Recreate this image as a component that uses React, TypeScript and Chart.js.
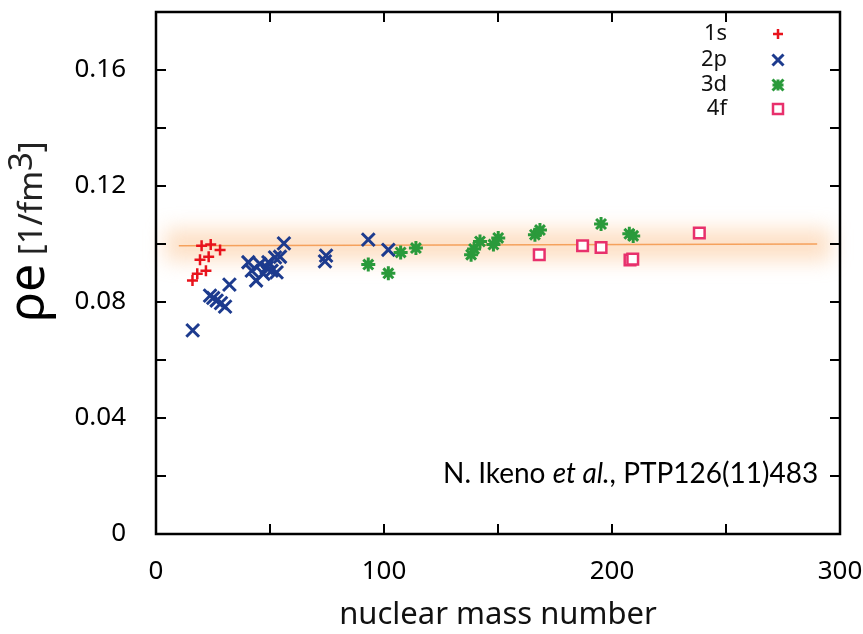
import React, { useEffect, useRef } from "react";
import { Chart, registerables } from "chart.js";

Chart.register(...registerables);

// ---- data ----
const s1X = [16.0, 18.1, 21.9, 19.3, 23.1, 20.0, 24.0, 28.1];
const s1Y = [0.0874, 0.0897, 0.0908, 0.0946, 0.0956, 0.0994, 0.0998, 0.0979];

const s2X = [16.1, 23.7, 25.1, 26.6, 28.5, 30.3, 32.2, 40.5, 42.0, 43.9, 45.6, 47.1, 48.5, 49.3, 50.7, 52.9, 52.2, 54.4, 56.1, 74.6, 74.1, 93.1, 101.9];
const s2Y = [0.0702, 0.0822, 0.0814, 0.0805, 0.0796, 0.0784, 0.0860, 0.0937, 0.0908, 0.0874, 0.0931, 0.0897, 0.0918, 0.0937, 0.0908, 0.0902, 0.0954, 0.0956, 0.1002, 0.0960, 0.0940, 0.1015, 0.0980];

const s3X = [93.1, 101.9, 107.3, 114.0, 138.2, 139.5, 142.1, 148.0, 150.1, 166.2, 168.4, 195.2, 207.6, 209.3];
const s3Y = [0.0929, 0.0899, 0.0971, 0.0986, 0.0963, 0.0983, 0.1009, 0.0998, 0.1021, 0.1032, 0.1048, 0.1069, 0.1035, 0.1028];

const s4X = [168.1, 187.1, 195.2, 207.9, 209.1, 238.3];
const s4Y = [0.0963, 0.0994, 0.0988, 0.0945, 0.0948, 0.1038];

const fitX = [10, 290];
const fitY = [0.0994, 0.1];
const glowX = [4, 296];
const glowHalfWidth = [0.0055];

const seriesNames = ["1s", "2p", "3d", "4f"];
const xTickValues = [0, 100, 200, 300];
const xTickLabels = ["0", "100", "200", "300"];
const yTickValues = [0, 0.04, 0.08, 0.12, 0.16];
const yTickLabels = ["0", "0.04", "0.08", "0.12", "0.16"];
const xFrameTicks = [50, 100, 150, 200, 250];
const yFrameTicks = [0.02, 0.04, 0.06, 0.08, 0.1, 0.12, 0.14, 0.16];

const xTitle = "nuclear mass number";
const creditParts = ["N. Ikeno ", "et al.", ", PTP126(11)483"];

const C_RED = "#e8131c";
const C_BLUE = "#1d3b8e";
const C_GREEN = "#2a9a3b";
const C_PINK = "#e8306c";

const zip = (xs: number[], ys: number[]) => xs.map((x, i) => ({ x, y: ys[i] }));

function drawMarker(ctx: CanvasRenderingContext2D, kind: number, x: number, y: number, s: number) {
  ctx.save();
  ctx.lineCap = "butt";
  ctx.beginPath();
  if (kind === 0) {
    ctx.strokeStyle = C_RED; ctx.lineWidth = 2.5;
    ctx.moveTo(x - s, y); ctx.lineTo(x + s, y); ctx.moveTo(x, y - s); ctx.lineTo(x, y + s);
  } else if (kind === 1) {
    ctx.strokeStyle = C_BLUE; ctx.lineWidth = 3;
    ctx.moveTo(x - s, y - s); ctx.lineTo(x + s, y + s); ctx.moveTo(x + s, y - s); ctx.lineTo(x - s, y + s);
  } else if (kind === 2) {
    ctx.strokeStyle = C_GREEN; ctx.lineWidth = 3;
    ctx.moveTo(x - s, y - s); ctx.lineTo(x + s, y + s); ctx.moveTo(x + s, y - s); ctx.lineTo(x - s, y + s);
    ctx.moveTo(x - s, y); ctx.lineTo(x + s, y); ctx.moveTo(x, y - s); ctx.lineTo(x, y + s);
  } else {
    ctx.strokeStyle = C_PINK; ctx.lineWidth = 2.5; ctx.fillStyle = "#fff";
    ctx.rect(x - s, y - s, 2 * s, 2 * s); ctx.fill();
  }
  ctx.stroke();
  ctx.restore();
}

const glowPlugin = {
  id: "glow",
  beforeDatasetsDraw(chart: any) {
    const { ctx, scales } = chart;
    const xs = scales.x, ys = scales.y;
    const x0 = xs.getPixelForValue(glowX[0]);
    const x1 = xs.getPixelForValue(glowX[1]);
    const ym = (fitY[0] + fitY[1]) / 2;
    const yTop = ys.getPixelForValue(ym + glowHalfWidth[0]);
    const yBot = ys.getPixelForValue(ym - glowHalfWidth[0]);
    ctx.save();
    ctx.filter = "blur(10px)";
    ctx.fillStyle = "rgba(250,180,118,0.42)";
    ctx.fillRect(x0, yTop, x1 - x0, yBot - yTop);
    ctx.restore();
  },
};

const decorPlugin = {
  id: "decor",
  afterDraw(chart: any) {
    const { ctx, chartArea: a, scales } = chart;
    const xs = scales.x, ys = scales.y;
    ctx.save();
    ctx.strokeStyle = "#000";
    ctx.lineWidth = 2.5;
    ctx.strokeRect(a.left, a.top, a.right - a.left, a.bottom - a.top);
    ctx.lineWidth = 2;
    ctx.beginPath();
    const L = 10;
    xFrameTicks.forEach((v) => {
      const px = xs.getPixelForValue(v);
      ctx.moveTo(px, a.bottom); ctx.lineTo(px, a.bottom - L);
      ctx.moveTo(px, a.top); ctx.lineTo(px, a.top + L);
    });
    yFrameTicks.forEach((v) => {
      const py = ys.getPixelForValue(v);
      ctx.moveTo(a.left, py); ctx.lineTo(a.left + L, py);
      ctx.moveTo(a.right, py); ctx.lineTo(a.right - L, py);
    });
    ctx.stroke();

    // legend
    ctx.fillStyle = "#111";
    ctx.font = '22px "Noto Sans"';
    ctx.textAlign = "right";
    ctx.textBaseline = "middle";
    const rows = [34, 60, 85, 109];
    seriesNames.forEach((n, i) => {
      ctx.fillText(n, 727, rows[i]);
      drawMarker(ctx, i, 778, rows[i], i === 0 ? 5 : i === 3 ? 5 : 5.5);
    });

    // credit text
    ctx.textAlign = "left";
    ctx.textBaseline = "alphabetic";
    let cx = 443;
    const by = 483;
    creditParts.forEach((t, i) => {
      ctx.font = (i === 1 ? "italic " : "") + '28px "Lato"';
      ctx.fillStyle = "#000";
      ctx.fillText(t, cx, by);
      cx += ctx.measureText(t).width;
    });

    // y title
    ctx.save();
    ctx.translate(44, 322);
    ctx.rotate(-Math.PI / 2);
    ctx.textAlign = "left";
    ctx.textBaseline = "alphabetic";
    let tx = 0;
    ctx.font = '50px "Noto Sans"';
    ctx.fillStyle = "#000";
    ctx.fillText("\u03c1e", tx, 0);
    tx += ctx.measureText("\u03c1e").width;
    ctx.font = '33px "Noto Sans"';
    ctx.fillStyle = "#222";
    ctx.fillText(" [1/fm", tx, -2);
    tx += ctx.measureText(" [1/fm").width;
    ctx.fillText("3", tx, -12);
    tx += ctx.measureText("3").width;
    ctx.fillText("]", tx, -2);
    ctx.restore();

    ctx.restore();
  },
};

export default function App() {
  const ref = useRef<HTMLCanvasElement | null>(null);
  useEffect(() => {
    document.body.style.margin = "0";
    const datasets: any[] = [];
    datasets.push({
      type: "line",
      data: zip(fitX, fitY),
      borderColor: "#f5a15c",
      borderWidth: 1.5,
      pointRadius: 0,
      order: 5,
    });
    datasets.push({
      type: "scatter",
      label: seriesNames[0],
      data: zip(s1X, s1Y),
      pointStyle: "cross",
      pointRadius: 5.5,
      borderWidth: 2.5,
      borderColor: C_RED,
      order: 4,
    });
    datasets.push({
      type: "scatter",
      label: seriesNames[1],
      data: zip(s2X, s2Y),
      pointStyle: "crossRot",
      pointRadius: 9,
      borderWidth: 3,
      borderColor: C_BLUE,
      order: 3,
    });
    datasets.push({
      type: "scatter",
      label: seriesNames[2],
      data: zip(s3X, s3Y),
      pointStyle: "star",
      pointRadius: 7,
      borderWidth: 3,
      borderColor: C_GREEN,
      order: 2,
    });
    datasets.push({
      type: "scatter",
      label: seriesNames[3],
      data: zip(s4X, s4Y),
      pointStyle: "rect",
      pointRadius: 7.5,
      borderWidth: 2.5,
      borderColor: C_PINK,
      backgroundColor: "#ffffff",
      order: 1,
    });

    const zeroPad = (s: any) => {
      s.paddingTop = 0;
      s.paddingBottom = 0;
      s.paddingLeft = 0;
      s.paddingRight = 0;
    };

    const chart = new Chart(ref.current as HTMLCanvasElement, {
      type: "scatter",
      data: { datasets },
      options: {
        animation: false,
        responsive: false,
        layout: { padding: { top: 11, right: 23, left: 0, bottom: 0 } },
        plugins: { legend: { display: false }, tooltip: { enabled: false } },
        scales: {
          x: {
            type: "linear",
            min: 0,
            max: 300,
            grid: { display: false, drawTicks: false, tickLength: 0 },
            border: { display: false },
            afterBuildTicks: (s: any) => {
              s.ticks = xTickValues.map((v) => ({ value: v }));
            },
            afterFit: (s: any) => {
              s.height = 100;
              zeroPad(s);
            },
            ticks: {
              padding: 22,
              color: "#000",
              font: { family: "Noto Sans", size: 26 },
              maxRotation: 0,
              callback: (v: any) => xTickLabels[xTickValues.indexOf(Number(v))] ?? "",
            },
            title: {
              display: true,
              text: xTitle,
              color: "#111",
              font: { family: "Noto Sans", size: 31 },
              padding: { top: 0, bottom: 0 },
            },
          },
          y: {
            type: "linear",
            min: 0,
            max: 0.18,
            grid: { display: false, drawTicks: false, tickLength: 0 },
            border: { display: false },
            afterBuildTicks: (s: any) => {
              s.ticks = yTickValues.map((v) => ({ value: v }));
            },
            afterFit: (s: any) => {
              s.width = 156;
              zeroPad(s);
            },
            ticks: {
              padding: 30,
              color: "#000",
              font: { family: "Noto Sans", size: 26 },
              callback: (v: any) => {
                const i = yTickValues.findIndex((t) => Math.abs(t - Number(v)) < 1e-9);
                return i >= 0 ? yTickLabels[i] : "";
              },
            },
          },
        },
      },
      plugins: [glowPlugin, decorPlugin],
    });
    return () => chart.destroy();
  }, []);
  return (
    <div style={{ width: 863, height: 634, background: "#fff" }}>
      <canvas ref={ref} width={863} height={634} style={{ display: "block" }} />
    </div>
  );
}
